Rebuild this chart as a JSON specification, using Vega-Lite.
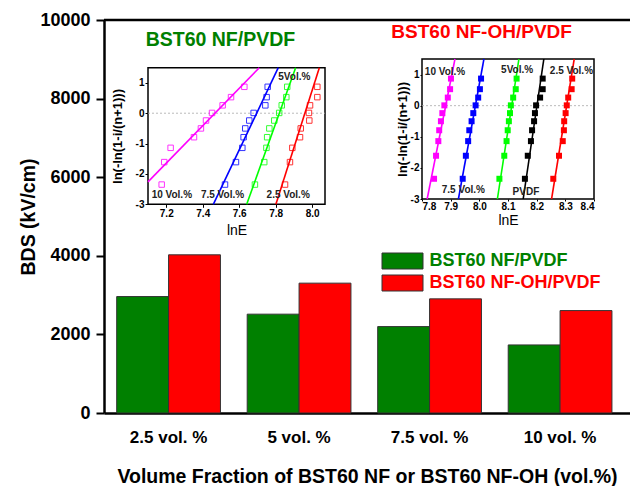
{
  "$schema": "https://vega.github.io/schema/vega-lite/v6.json",
  "width": 526,
  "height": 393,
  "autosize": {"type": "none"},
  "padding": {"left": 104, "top": 20, "right": 0, "bottom": 73},
  "background": "white",
  "config": {
    "view": {"stroke": null},
    "font": "Liberation Sans",
    "axis": {"grid": false, "labelColor": "black", "titleColor": "black", "tickColor": "black", "domainColor": "black"}
  },
  "datasets": {
    "bds": [
      {"vol": "2.5 vol. %", "sample": "BST60 NF/PVDF", "bds": 2963},
      {"vol": "2.5 vol. %", "sample": "BST60 NF-OH/PVDF", "bds": 4025},
      {"vol": "5 vol. %", "sample": "BST60 NF/PVDF", "bds": 2515},
      {"vol": "5 vol. %", "sample": "BST60 NF-OH/PVDF", "bds": 3304},
      {"vol": "7.5 vol. %", "sample": "BST60 NF/PVDF", "bds": 2199},
      {"vol": "7.5 vol. %", "sample": "BST60 NF-OH/PVDF", "bds": 2904},
      {"vol": "10 vol. %", "sample": "BST60 NF/PVDF", "bds": 1732},
      {"vol": "10 vol. %", "sample": "BST60 NF-OH/PVDF", "bds": 2606}
    ],
    "weib1": [
      {"series": "10 Vol.%", "lnE": 7.175, "weib": -2.35},
      {"series": "10 Vol.%", "lnE": 7.189, "weib": -1.61},
      {"series": "10 Vol.%", "lnE": 7.224, "weib": -1.14},
      {"series": "10 Vol.%", "lnE": 7.352, "weib": -0.79},
      {"series": "10 Vol.%", "lnE": 7.390, "weib": -0.50},
      {"series": "10 Vol.%", "lnE": 7.418, "weib": -0.24},
      {"series": "10 Vol.%", "lnE": 7.451, "weib": 0.01},
      {"series": "10 Vol.%", "lnE": 7.509, "weib": 0.26},
      {"series": "10 Vol.%", "lnE": 7.555, "weib": 0.53},
      {"series": "10 Vol.%", "lnE": 7.628, "weib": 0.87},
      {"series": "7.5 Vol.%", "lnE": 7.522, "weib": -2.35},
      {"series": "7.5 Vol.%", "lnE": 7.582, "weib": -1.61},
      {"series": "7.5 Vol.%", "lnE": 7.617, "weib": -1.14},
      {"series": "7.5 Vol.%", "lnE": 7.624, "weib": -0.79},
      {"series": "7.5 Vol.%", "lnE": 7.633, "weib": -0.50},
      {"series": "7.5 Vol.%", "lnE": 7.655, "weib": -0.24},
      {"series": "7.5 Vol.%", "lnE": 7.679, "weib": 0.01},
      {"series": "7.5 Vol.%", "lnE": 7.743, "weib": 0.26},
      {"series": "7.5 Vol.%", "lnE": 7.750, "weib": 0.53},
      {"series": "7.5 Vol.%", "lnE": 7.756, "weib": 0.87},
      {"series": "5 Vol.%", "lnE": 7.686, "weib": -2.35},
      {"series": "5 Vol.%", "lnE": 7.737, "weib": -1.61},
      {"series": "5 Vol.%", "lnE": 7.749, "weib": -1.14},
      {"series": "5 Vol.%", "lnE": 7.753, "weib": -0.79},
      {"series": "5 Vol.%", "lnE": 7.765, "weib": -0.50},
      {"series": "5 Vol.%", "lnE": 7.792, "weib": -0.24},
      {"series": "5 Vol.%", "lnE": 7.819, "weib": 0.01},
      {"series": "5 Vol.%", "lnE": 7.833, "weib": 0.26},
      {"series": "5 Vol.%", "lnE": 7.858, "weib": 0.53},
      {"series": "5 Vol.%", "lnE": 7.863, "weib": 0.87},
      {"series": "2.5 Vol.%", "lnE": 7.851, "weib": -2.35},
      {"series": "2.5 Vol.%", "lnE": 7.878, "weib": -1.61},
      {"series": "2.5 Vol.%", "lnE": 7.891, "weib": -1.14},
      {"series": "2.5 Vol.%", "lnE": 7.933, "weib": -0.79},
      {"series": "2.5 Vol.%", "lnE": 7.937, "weib": -0.50},
      {"series": "2.5 Vol.%", "lnE": 7.984, "weib": -0.24},
      {"series": "2.5 Vol.%", "lnE": 7.982, "weib": 0.01},
      {"series": "2.5 Vol.%", "lnE": 7.988, "weib": 0.26},
      {"series": "2.5 Vol.%", "lnE": 8.028, "weib": 0.53},
      {"series": "2.5 Vol.%", "lnE": 8.028, "weib": 0.87}
    ],
    "fit1": [
      {"series": "10 Vol.%", "lnE": 7.100, "weib": -2.26},
      {"series": "10 Vol.%", "lnE": 7.710, "weib": 1.5},
      {"series": "7.5 Vol.%", "lnE": 7.458, "weib": -3},
      {"series": "7.5 Vol.%", "lnE": 7.814, "weib": 1.5},
      {"series": "5 Vol.%", "lnE": 7.641, "weib": -3},
      {"series": "5 Vol.%", "lnE": 7.909, "weib": 1.5},
      {"series": "2.5 Vol.%", "lnE": 7.801, "weib": -3},
      {"series": "2.5 Vol.%", "lnE": 8.039, "weib": 1.5}
    ],
    "lab1": [
      {"lnE": 7.12, "weib": -2.69, "text": "10 Vol.%"},
      {"lnE": 7.39, "weib": -2.69, "text": "7.5 Vol.%"},
      {"lnE": 7.75, "weib": -2.69, "text": "2.5 Vol.%"},
      {"lnE": 7.814, "weib": 1.2, "text": "5Vol.%"}
    ],
    "weib2": [
      {"series": "10 Vol.%", "lnE": 7.842, "weib": -2.35},
      {"series": "10 Vol.%", "lnE": 7.849, "weib": -1.61},
      {"series": "10 Vol.%", "lnE": 7.857, "weib": -1.14},
      {"series": "10 Vol.%", "lnE": 7.860, "weib": -0.79},
      {"series": "10 Vol.%", "lnE": 7.866, "weib": -0.50},
      {"series": "10 Vol.%", "lnE": 7.871, "weib": -0.24},
      {"series": "10 Vol.%", "lnE": 7.878, "weib": 0.01},
      {"series": "10 Vol.%", "lnE": 7.890, "weib": 0.26},
      {"series": "10 Vol.%", "lnE": 7.898, "weib": 0.53},
      {"series": "10 Vol.%", "lnE": 7.901, "weib": 0.87},
      {"series": "7.5 Vol.%", "lnE": 7.942, "weib": -2.35},
      {"series": "7.5 Vol.%", "lnE": 7.953, "weib": -1.61},
      {"series": "7.5 Vol.%", "lnE": 7.961, "weib": -1.14},
      {"series": "7.5 Vol.%", "lnE": 7.965, "weib": -0.79},
      {"series": "7.5 Vol.%", "lnE": 7.973, "weib": -0.50},
      {"series": "7.5 Vol.%", "lnE": 7.979, "weib": -0.24},
      {"series": "7.5 Vol.%", "lnE": 7.987, "weib": 0.01},
      {"series": "7.5 Vol.%", "lnE": 7.996, "weib": 0.26},
      {"series": "7.5 Vol.%", "lnE": 8.002, "weib": 0.53},
      {"series": "7.5 Vol.%", "lnE": 8.006, "weib": 0.87},
      {"series": "5 Vol.%", "lnE": 8.070, "weib": -2.35},
      {"series": "5 Vol.%", "lnE": 8.087, "weib": -1.61},
      {"series": "5 Vol.%", "lnE": 8.095, "weib": -1.14},
      {"series": "5 Vol.%", "lnE": 8.099, "weib": -0.79},
      {"series": "5 Vol.%", "lnE": 8.103, "weib": -0.50},
      {"series": "5 Vol.%", "lnE": 8.107, "weib": -0.24},
      {"series": "5 Vol.%", "lnE": 8.110, "weib": 0.01},
      {"series": "5 Vol.%", "lnE": 8.118, "weib": 0.26},
      {"series": "5 Vol.%", "lnE": 8.127, "weib": 0.53},
      {"series": "5 Vol.%", "lnE": 8.130, "weib": 0.87},
      {"series": "PVDF", "lnE": 8.159, "weib": -2.35},
      {"series": "PVDF", "lnE": 8.169, "weib": -1.61},
      {"series": "PVDF", "lnE": 8.180, "weib": -1.14},
      {"series": "PVDF", "lnE": 8.184, "weib": -0.79},
      {"series": "PVDF", "lnE": 8.191, "weib": -0.50},
      {"series": "PVDF", "lnE": 8.194, "weib": -0.24},
      {"series": "PVDF", "lnE": 8.198, "weib": 0.01},
      {"series": "PVDF", "lnE": 8.212, "weib": 0.26},
      {"series": "PVDF", "lnE": 8.221, "weib": 0.53},
      {"series": "PVDF", "lnE": 8.221, "weib": 0.87},
      {"series": "2.5 Vol.%", "lnE": 8.258, "weib": -2.35},
      {"series": "2.5 Vol.%", "lnE": 8.278, "weib": -1.61},
      {"series": "2.5 Vol.%", "lnE": 8.291, "weib": -1.14},
      {"series": "2.5 Vol.%", "lnE": 8.295, "weib": -0.79},
      {"series": "2.5 Vol.%", "lnE": 8.296, "weib": -0.50},
      {"series": "2.5 Vol.%", "lnE": 8.301, "weib": -0.24},
      {"series": "2.5 Vol.%", "lnE": 8.305, "weib": 0.01},
      {"series": "2.5 Vol.%", "lnE": 8.310, "weib": 0.26},
      {"series": "2.5 Vol.%", "lnE": 8.322, "weib": 0.53},
      {"series": "2.5 Vol.%", "lnE": 8.324, "weib": 0.87}
    ],
    "fit2": [
      {"series": "10 Vol.%", "lnE": 7.818, "weib": -3},
      {"series": "10 Vol.%", "lnE": 7.915, "weib": 1.5},
      {"series": "7.5 Vol.%", "lnE": 7.927, "weib": -3},
      {"series": "7.5 Vol.%", "lnE": 8.016, "weib": 1.5},
      {"series": "5 Vol.%", "lnE": 8.063, "weib": -3},
      {"series": "5 Vol.%", "lnE": 8.138, "weib": 1.5},
      {"series": "PVDF", "lnE": 8.153, "weib": -3},
      {"series": "PVDF", "lnE": 8.225, "weib": 1.5},
      {"series": "2.5 Vol.%", "lnE": 8.252, "weib": -3},
      {"series": "2.5 Vol.%", "lnE": 8.331, "weib": 1.5}
    ],
    "lab2": [
      {"lnE": 7.81, "weib": 1.09, "text": "10 Vol.%"},
      {"lnE": 8.076, "weib": 1.15, "text": "5Vol.%"},
      {"lnE": 8.246, "weib": 1.12, "text": "2.5 Vol.%"},
      {"lnE": 7.869, "weib": -2.71, "text": "7.5 Vol.%"},
      {"lnE": 8.116, "weib": -2.78, "text": "PVDF"}
    ]
  },
  "layer": [
    {
      "data": {"name": "bds"},
      "layer": [
        {
          "mark": {"type": "bar", "stroke": "#333333", "strokeWidth": 1},
          "encoding": {
            "x": {
              "field": "vol", "type": "nominal",
              "sort": ["2.5 vol. %", "5 vol. %", "7.5 vol. %", "10 vol. %"],
              "scale": {"paddingInner": 0.205, "paddingOuter": 0.1178, "align": 0.413},
              "axis": {
                "title": "Volume Fraction of BST60 NF or BST60 NF-OH (vol.%)",
                "orient": "bottom", "labelAngle": 0, "ticks": false, "labelPadding": 16,
                "labelFontSize": 17, "labelFontWeight": "bold",
                "domainWidth": 2.5,
                "titleFontSize": 19.5, "titleFontWeight": "bold", "titlePadding": 22
              }
            },
            "xOffset": {
              "field": "sample", "type": "nominal",
              "sort": ["BST60 NF/PVDF", "BST60 NF-OH/PVDF"],
              "scale": {"paddingInner": 0, "paddingOuter": 0}
            },
            "y": {
              "field": "bds", "type": "quantitative",
              "scale": {"domain": [0, 10000]},
              "axis": {
                "title": "BDS (kV/cm)", "orient": "left",
                "values": [0, 1000, 2000, 3000, 4000, 5000, 6000, 7000, 8000, 9000, 10000],
                "format": "d",
                "labelExpr": "datum.value % 2000 === 0 ? datum.label : ''",
                "tickSize": {"condition": {"test": "datum.value % 2000 === 0", "value": 8}, "value": 4},
                "tickWidth": 2, "domainWidth": 2.5,
                "labelFontSize": 18, "labelFontWeight": "bold", "labelPadding": 6,
                "titleFontSize": 19.5, "titleFontWeight": "bold", "titlePadding": 1
              }
            },
            "color": {
              "field": "sample", "type": "nominal",
              "sort": ["BST60 NF/PVDF", "BST60 NF-OH/PVDF"],
              "scale": {"domain": ["BST60 NF/PVDF", "BST60 NF-OH/PVDF"], "range": ["#008000", "#ff0000"]},
              "legend": {
                "title": null, "orient": "none", "legendX": 289.5, "legendY": 232,
                "symbolType": "M-2.5625,-1H2.5625V1H-2.5625Z", "symbolSize": 256,
                "symbolStrokeColor": "#333333", "symbolStrokeWidth": 1, "symbolOpacity": 1,
                "labelFontSize": 18, "labelFontWeight": "bold", "labelOffset": 18,
                "labelLimit": 300, "rowPadding": 2,
                "encode": {
                  "labels": {"update": {"fill": {"signal": "datum.value === 'BST60 NF/PVDF' ? '#008000' : '#ff0000'"}}}
                }
              }
            }
          }
        },
        {
          "data": {"values": [{"top": 10000}]},
          "mark": {"type": "rule", "color": "black", "strokeWidth": 2.5},
          "encoding": {"y": {"field": "top", "type": "quantitative"}}
        }
      ]
    },
    {
      "layer": [
        {
          "data": {"values": [{"x0": 7.1, "x1": 8.07, "y0": -3, "y1": 1.5}]},
          "mark": {"type": "rect", "fill": "white", "stroke": "black", "strokeWidth": 1.5},
          "encoding": {
            "x": {
              "field": "x0", "type": "quantitative", "title": "lnE",
              "scale": {"domain": [7.1, 8.07], "range": [44, 221], "nice": false, "zero": false},
              "axis": {
                "orient": "bottom", "offset": -208.7, "domain": false,
                "values": [7.2, 7.4, 7.6, 7.8, 8.0], "format": ".1f",
                "tickSize": 3, "tickWidth": 1, "labelPadding": 1,
                "labelFontSize": 10, "labelFontWeight": "bold",
                "titleFontSize": 14, "titleFontWeight": "normal", "titlePadding": 5
              }
            },
            "x2": {"field": "x1"},
            "y": {
              "field": "y0", "type": "quantitative", "title": "ln(-ln(1-i/(n+1)))",
              "scale": {"domain": [-3, 1.5], "range": [184.3, 47.7], "nice": false, "zero": false},
              "axis": {
                "orient": "left", "offset": -44, "domain": false,
                "values": [-3, -2, -1, 0, 1], "labelExpr": "'' + datum.value",
                "tickSize": 3, "tickWidth": 1, "labelPadding": 1,
                "labelFontSize": 10, "labelFontWeight": "bold",
                "titleFontSize": 13, "titleFontWeight": "bold", "titlePadding": 11
              }
            },
            "y2": {"field": "y1"}
          }
        },
        {
          "data": {"values": [{"x0": 7.1, "x1": 8.07, "y0": 0}]},
          "mark": {"type": "rule", "color": "#aaaaaa", "strokeDash": [2, 2], "strokeWidth": 0.8},
          "encoding": {
            "x": {"field": "x0", "type": "quantitative", "title": "lnE"},
            "x2": {"field": "x1"},
            "y": {"field": "y0", "type": "quantitative", "title": "ln(-ln(1-i/(n+1)))"}
          }
        },
        {
          "data": {"name": "fit1"},
          "mark": {"type": "line", "strokeWidth": 1.6},
          "encoding": {
            "x": {"field": "lnE", "type": "quantitative", "title": "lnE"},
            "y": {"field": "weib", "type": "quantitative", "title": "ln(-ln(1-i/(n+1)))"},
            "color": {
              "field": "series", "type": "nominal",
              "scale": {"domain": ["10 Vol.%", "7.5 Vol.%", "5 Vol.%", "2.5 Vol.%"], "range": ["#ff00ff", "#0000ff", "#00ff00", "#ff0000"]},
              "legend": null
            }
          }
        },
        {
          "data": {"name": "weib1"},
          "mark": {"type": "point", "shape": "square", "filled": false, "size": 30, "strokeWidth": 1, "opacity": 0.8},
          "encoding": {
            "x": {"field": "lnE", "type": "quantitative", "title": "lnE"},
            "y": {"field": "weib", "type": "quantitative", "title": "ln(-ln(1-i/(n+1)))"},
            "color": {"field": "series", "type": "nominal", "legend": null}
          }
        },
        {
          "data": {"name": "lab1"},
          "mark": {"type": "text", "align": "left", "baseline": "middle", "fontSize": 10, "fontWeight": "bold", "color": "#222222"},
          "encoding": {
            "x": {"field": "lnE", "type": "quantitative", "title": "lnE"},
            "y": {"field": "weib", "type": "quantitative", "title": "ln(-ln(1-i/(n+1)))"},
            "text": {"field": "text"}
          }
        },
        {
          "data": {"values": [{"lnE": 7.497, "weib": 2.41, "text": "BST60 NF/PVDF"}]},
          "mark": {"type": "text", "align": "center", "baseline": "middle", "fontSize": 19.5, "fontWeight": "bold", "color": "#008000"},
          "encoding": {
            "x": {"field": "lnE", "type": "quantitative", "title": "lnE"},
            "y": {"field": "weib", "type": "quantitative", "title": "ln(-ln(1-i/(n+1)))"},
            "text": {"field": "text"}
          }
        }
      ]
    },
    {
      "layer": [
        {
          "data": {"values": [{"x0": 7.8, "x1": 8.4, "y0": -3, "y1": 1.5}]},
          "mark": {"type": "rect", "fill": "white", "stroke": "black", "strokeWidth": 1.5},
          "encoding": {
            "x": {
              "field": "x0", "type": "quantitative", "title": "lnE",
              "scale": {"domain": [7.8, 8.4], "range": [318, 490], "nice": false, "zero": false},
              "axis": {
                "orient": "bottom", "offset": -214, "domain": false,
                "values": [7.8, 7.9, 8.0, 8.1, 8.2, 8.3, 8.4], "format": ".1f",
                "tickSize": 2, "tickWidth": 1, "labelPadding": 0,
                "labelFontSize": 10, "labelFontWeight": "bold",
                "titleFontSize": 14, "titleFontWeight": "normal", "titlePadding": 2
              }
            },
            "x2": {"field": "x1"},
            "y": {
              "field": "y0", "type": "quantitative", "title": "ln(-ln(1-i/(n+1)))",
              "scale": {"domain": [-3, 1.5], "range": [179, 39], "nice": false, "zero": false},
              "axis": {
                "orient": "left", "offset": -318, "domain": false,
                "values": [-3, -2, -1, 0, 1], "labelExpr": "'' + datum.value",
                "tickSize": 2, "tickWidth": 1, "labelPadding": 1,
                "labelFontSize": 10, "labelFontWeight": "bold",
                "titleFontSize": 13, "titleFontWeight": "bold", "titlePadding": 1
              }
            },
            "y2": {"field": "y1"}
          }
        },
        {
          "data": {"values": [{"x0": 7.8, "x1": 8.4, "y0": 0}]},
          "mark": {"type": "rule", "color": "#aaaaaa", "strokeDash": [2, 2], "strokeWidth": 0.8},
          "encoding": {
            "x": {"field": "x0", "type": "quantitative", "title": "lnE"},
            "x2": {"field": "x1"},
            "y": {"field": "y0", "type": "quantitative", "title": "ln(-ln(1-i/(n+1)))"}
          }
        },
        {
          "data": {"name": "fit2"},
          "mark": {"type": "line", "strokeWidth": 1.6},
          "encoding": {
            "x": {"field": "lnE", "type": "quantitative", "title": "lnE"},
            "y": {"field": "weib", "type": "quantitative", "title": "ln(-ln(1-i/(n+1)))"},
            "color": {
              "field": "series", "type": "nominal",
              "scale": {"domain": ["10 Vol.%", "7.5 Vol.%", "5 Vol.%", "PVDF", "2.5 Vol.%"], "range": ["#ff00ff", "#0000ff", "#00ff00", "#000000", "#ff0000"]},
              "legend": null
            }
          }
        },
        {
          "data": {"name": "weib2"},
          "mark": {"type": "point", "shape": "square", "filled": true, "size": 36, "opacity": 1},
          "encoding": {
            "x": {"field": "lnE", "type": "quantitative", "title": "lnE"},
            "y": {"field": "weib", "type": "quantitative", "title": "ln(-ln(1-i/(n+1)))"},
            "color": {"field": "series", "type": "nominal", "legend": null}
          }
        },
        {
          "data": {"name": "lab2"},
          "mark": {"type": "text", "align": "left", "baseline": "middle", "fontSize": 10, "fontWeight": "bold", "color": "#222222"},
          "encoding": {
            "x": {"field": "lnE", "type": "quantitative", "title": "lnE"},
            "y": {"field": "weib", "type": "quantitative", "title": "ln(-ln(1-i/(n+1)))"},
            "text": {"field": "text"}
          }
        },
        {
          "data": {"values": [{"lnE": 8.008, "weib": 2.38, "text": "BST60 NF-OH/PVDF"}]},
          "mark": {"type": "text", "align": "center", "baseline": "middle", "fontSize": 19, "fontWeight": "bold", "color": "#ff0000"},
          "encoding": {
            "x": {"field": "lnE", "type": "quantitative", "title": "lnE"},
            "y": {"field": "weib", "type": "quantitative", "title": "ln(-ln(1-i/(n+1)))"},
            "text": {"field": "text"}
          }
        }
      ]
    }
  ],
  "resolve": {
    "scale": {"x": "independent", "y": "independent", "color": "independent"},
    "axis": {"x": "independent", "y": "independent"},
    "legend": {"color": "independent"}
  }
}
